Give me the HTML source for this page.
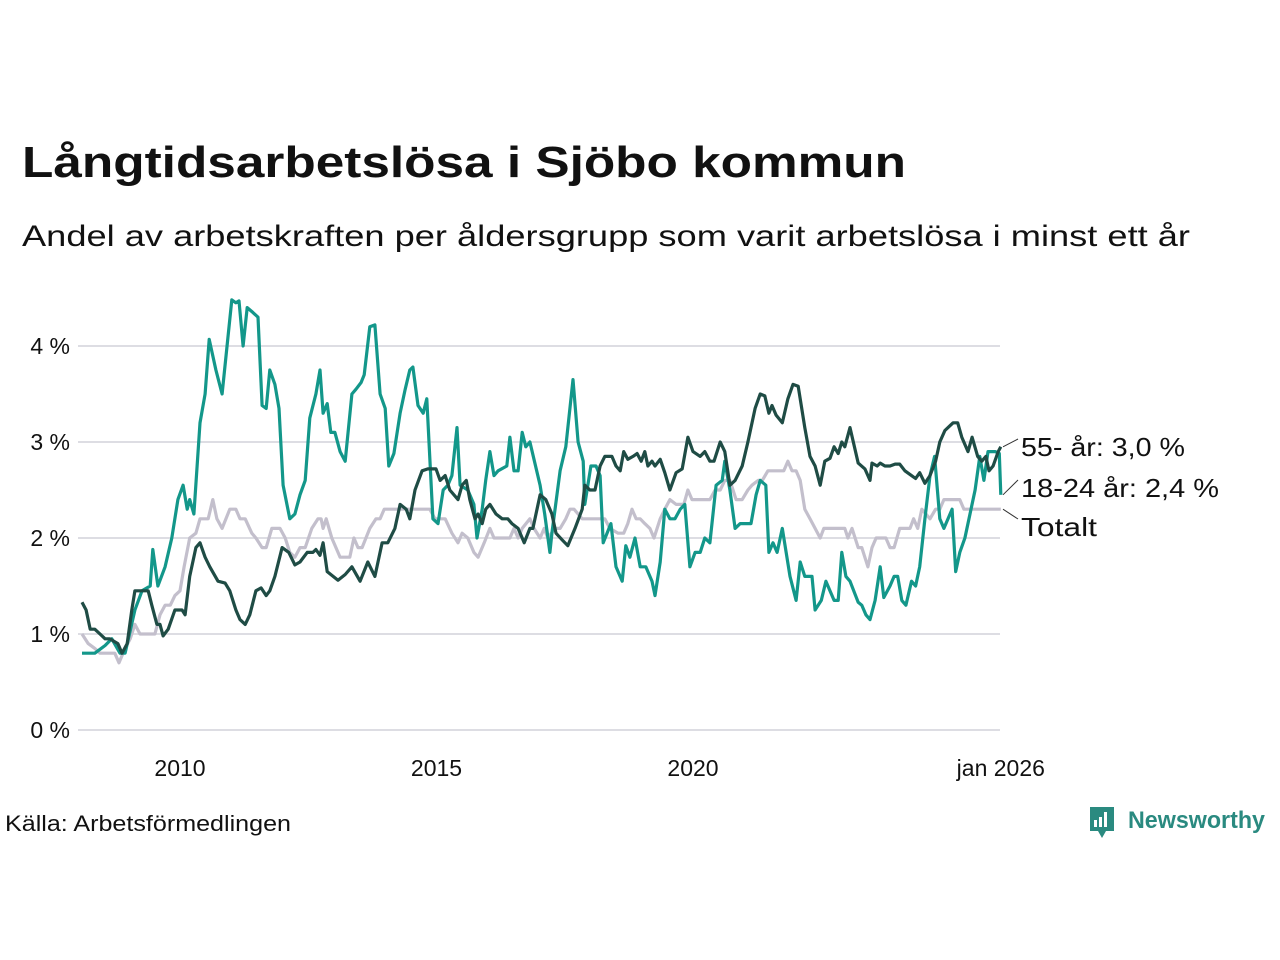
<!DOCTYPE html>
<html><head><meta charset="utf-8"><style>
html,body{margin:0;padding:0;background:#fff;}
svg{display:block;font-family:"Liberation Sans",sans-serif;}
</style></head><body>
<svg id="chart" width="1280" height="960" viewBox="0 0 1280 960">
<text x="22" y="177" font-size="44" font-weight="bold" fill="#111" textLength="884" lengthAdjust="spacingAndGlyphs">Långtidsarbetslösa i Sjöbo kommun</text>
<text x="22" y="246" font-size="30" fill="#111" textLength="1168" lengthAdjust="spacingAndGlyphs">Andel av arbetskraften per åldersgrupp som varit arbetslösa i minst ett år</text>
<g id="grid"></g>
<g id="yticks"></g>
<g id="xticks"></g>
<g id="lines"></g>
<g id="labels"></g>
<text x="5" y="831" font-size="22" fill="#111" textLength="286" lengthAdjust="spacingAndGlyphs">Källa: Arbetsförmedlingen</text>
<g>
<path d="M1090 807 h24 v24 h-8 l-4 7 l-4 -7 h-8 z" fill="#2a8a80"/>
<rect x="1094" y="820" width="3" height="7" fill="#fff"/><rect x="1099" y="817" width="3" height="10" fill="#fff"/><rect x="1104" y="812" width="3" height="15" fill="#fff"/>
<text x="1128" y="828" font-size="24" font-weight="bold" fill="#2a8a80" textLength="137" lengthAdjust="spacingAndGlyphs">Newsworthy</text>
</g>
</svg>
<script>
const yTicks=[0,1,2,3,4];
const yTickLabels=["0 %","1 %","2 %","3 %","4 %"];
const xTicks=[2010,2015,2020,2026];
const xTickLabels=["2010","2015","2020","jan 2026"];
const youngT=[2008.09,2008.34,2008.54,2008.67,2008.83,2008.93,2009.12,2009.26,2009.42,2009.47,2009.57,2009.71,2009.84,2009.96,2010.06,2010.14,2010.19,2010.27,2010.39,2010.49,2010.57,2010.70,2010.82,2011.01,2011.09,2011.15,2011.23,2011.31,2011.42,2011.52,2011.60,2011.68,2011.75,2011.85,2011.93,2012.01,2012.14,2012.24,2012.34,2012.44,2012.53,2012.65,2012.73,2012.79,2012.87,2012.94,2013.02,2013.12,2013.22,2013.35,2013.43,2013.53,2013.59,2013.70,2013.80,2013.90,2014.00,2014.07,2014.17,2014.29,2014.39,2014.48,2014.54,2014.64,2014.74,2014.81,2014.93,2015.03,2015.13,2015.22,2015.30,2015.40,2015.46,2015.61,2015.73,2015.79,2015.89,2015.96,2016.04,2016.12,2016.20,2016.37,2016.43,2016.51,2016.59,2016.67,2016.74,2016.82,2017.02,2017.11,2017.21,2017.25,2017.41,2017.52,2017.66,2017.76,2017.86,2017.89,2018.01,2018.11,2018.19,2018.25,2018.40,2018.50,2018.62,2018.69,2018.77,2018.87,2018.97,2019.08,2019.20,2019.26,2019.36,2019.45,2019.55,2019.65,2019.75,2019.84,2019.94,2020.04,2020.14,2020.23,2020.33,2020.45,2020.57,2020.62,2020.72,2020.82,2020.92,2021.13,2021.23,2021.31,2021.42,2021.48,2021.56,2021.64,2021.74,2021.89,2022.01,2022.09,2022.18,2022.32,2022.38,2022.50,2022.59,2022.75,2022.83,2022.90,2022.98,2023.06,2023.22,2023.29,2023.37,2023.45,2023.55,2023.65,2023.72,2023.84,2023.92,2023.99,2024.07,2024.15,2024.26,2024.34,2024.42,2024.52,2024.62,2024.71,2024.81,2024.89,2025.05,2025.12,2025.20,2025.30,2025.40,2025.50,2025.59,2025.67,2025.75,2025.89,2025.97,2026.00];
const youngV=[0.80,0.80,0.88,0.95,0.80,0.80,1.25,1.45,1.50,1.88,1.50,1.70,2.00,2.40,2.55,2.30,2.40,2.25,3.20,3.50,4.07,3.75,3.50,4.48,4.45,4.47,4.00,4.40,4.35,4.30,3.38,3.35,3.75,3.60,3.35,2.55,2.20,2.25,2.45,2.60,3.25,3.50,3.75,3.30,3.40,3.10,3.10,2.90,2.80,3.50,3.55,3.62,3.70,4.20,4.22,3.50,3.35,2.75,2.88,3.30,3.55,3.75,3.78,3.38,3.30,3.45,2.20,2.15,2.50,2.55,2.65,3.15,2.55,2.50,2.35,2.00,2.30,2.60,2.90,2.65,2.70,2.75,3.05,2.70,2.70,3.10,2.95,3.00,2.55,2.25,1.85,2.05,2.70,2.95,3.65,3.00,2.80,2.35,2.75,2.75,2.65,1.95,2.15,1.70,1.55,1.92,1.80,2.00,1.70,1.70,1.55,1.40,1.75,2.30,2.20,2.20,2.30,2.35,1.70,1.85,1.85,2.00,1.95,2.55,2.60,2.80,2.50,2.10,2.15,2.15,2.45,2.60,2.55,1.85,1.95,1.85,2.10,1.60,1.35,1.75,1.60,1.60,1.25,1.35,1.55,1.35,1.35,1.85,1.60,1.55,1.33,1.30,1.20,1.15,1.35,1.70,1.38,1.50,1.60,1.60,1.35,1.30,1.55,1.50,1.70,2.20,2.65,2.85,2.20,2.10,2.30,1.65,1.85,2.00,2.25,2.50,2.85,2.60,2.90,2.90,2.88,2.45];
const oldT=[2008.09,2008.17,2008.25,2008.34,2008.44,2008.54,2008.63,2008.79,2008.87,2008.97,2009.06,2009.12,2009.26,2009.38,2009.45,2009.55,2009.61,2009.67,2009.77,2009.90,2010.04,2010.10,2010.19,2010.31,2010.39,2010.49,2010.58,2010.74,2010.88,2010.97,2011.09,2011.17,2011.27,2011.36,2011.48,2011.58,2011.68,2011.75,2011.85,2011.99,2012.12,2012.24,2012.34,2012.48,2012.59,2012.65,2012.73,2012.79,2012.87,2013.08,2013.22,2013.35,2013.51,2013.66,2013.80,2013.94,2014.05,2014.19,2014.29,2014.41,2014.48,2014.58,2014.72,2014.83,2014.99,2015.07,2015.17,2015.26,2015.42,2015.50,2015.58,2015.65,2015.75,2015.81,2015.89,2015.96,2016.04,2016.16,2016.28,2016.39,2016.47,2016.59,2016.71,2016.82,2016.88,2017.02,2017.13,2017.25,2017.33,2017.45,2017.56,2017.70,2017.84,2017.89,2017.99,2018.09,2018.19,2018.28,2018.42,2018.50,2018.58,2018.65,2018.73,2018.83,2018.91,2018.99,2019.06,2019.12,2019.20,2019.26,2019.36,2019.45,2019.55,2019.67,2019.79,2019.90,2020.00,2020.14,2020.23,2020.33,2020.41,2020.53,2020.62,2020.72,2020.82,2020.96,2021.07,2021.21,2021.31,2021.40,2021.48,2021.54,2021.62,2021.74,2021.85,2021.95,2022.05,2022.18,2022.28,2022.38,2022.48,2022.57,2022.67,2022.75,2022.83,2022.90,2022.96,2023.06,2023.22,2023.35,2023.45,2023.49,2023.59,2023.65,2023.74,2023.84,2023.94,2024.03,2024.13,2024.26,2024.34,2024.42,2024.52,2024.62,2024.73,2024.81,2024.91,2025.01,2025.07,2025.16,2025.24,2025.36,2025.44,2025.55,2025.63,2025.71,2025.77,2025.85,2025.95,2026.00];
const oldV=[1.33,1.25,1.05,1.05,1.00,0.95,0.95,0.90,0.80,0.90,1.25,1.45,1.45,1.45,1.30,1.10,1.10,0.98,1.05,1.25,1.25,1.20,1.60,1.90,1.95,1.80,1.70,1.55,1.53,1.45,1.25,1.15,1.10,1.20,1.45,1.48,1.40,1.45,1.60,1.90,1.85,1.72,1.75,1.85,1.85,1.88,1.82,1.95,1.65,1.56,1.62,1.70,1.55,1.75,1.60,1.95,1.95,2.10,2.35,2.30,2.20,2.50,2.70,2.72,2.72,2.60,2.65,2.50,2.40,2.55,2.60,2.40,2.20,2.25,2.15,2.30,2.35,2.25,2.20,2.20,2.15,2.10,1.95,2.10,2.10,2.45,2.40,2.25,2.05,1.98,1.92,2.10,2.30,2.55,2.50,2.50,2.75,2.85,2.85,2.75,2.70,2.90,2.82,2.85,2.88,2.80,2.90,2.75,2.80,2.75,2.82,2.68,2.50,2.68,2.72,3.05,2.90,2.85,2.90,2.80,2.80,3.00,2.90,2.55,2.60,2.75,3.00,3.35,3.50,3.48,3.30,3.38,3.28,3.20,3.45,3.60,3.58,3.15,2.85,2.75,2.55,2.80,2.83,2.95,2.88,3.00,2.95,3.15,2.78,2.72,2.60,2.78,2.75,2.78,2.75,2.75,2.77,2.77,2.70,2.65,2.62,2.68,2.57,2.65,2.80,3.00,3.12,3.17,3.20,3.20,3.05,2.90,3.05,2.85,2.80,2.85,2.70,2.75,2.90,2.95];
const totT=[2008.09,2008.21,2008.34,2008.44,2008.73,2008.81,2008.93,2009.03,2009.12,2009.22,2009.51,2009.61,2009.71,2009.81,2009.90,2010.00,2010.08,2010.19,2010.31,2010.39,2010.55,2010.64,2010.72,2010.82,2010.97,2011.09,2011.17,2011.27,2011.40,2011.48,2011.60,2011.68,2011.79,2011.95,2012.05,2012.14,2012.24,2012.34,2012.44,2012.57,2012.69,2012.75,2012.79,2012.85,2012.96,2013.12,2013.31,2013.39,2013.47,2013.55,2013.70,2013.82,2013.90,2013.98,2014.87,2014.97,2015.17,2015.30,2015.42,2015.50,2015.61,2015.73,2015.81,2015.93,2016.04,2016.12,2016.43,2016.51,2016.59,2016.67,2016.82,2016.90,2017.02,2017.10,2017.17,2017.31,2017.41,2017.52,2017.60,2017.68,2017.76,2017.84,2018.28,2018.38,2018.54,2018.65,2018.73,2018.81,2018.89,2018.97,2019.06,2019.16,2019.24,2019.36,2019.45,2019.55,2019.67,2019.82,2019.90,2019.98,2020.33,2020.43,2020.53,2020.62,2020.72,2020.84,2020.96,2021.07,2021.15,2021.27,2021.35,2021.46,2021.77,2021.85,2021.93,2022.01,2022.09,2022.18,2022.28,2022.38,2022.48,2022.55,2022.96,2023.02,2023.10,2023.22,2023.29,2023.41,2023.49,2023.57,2023.76,2023.84,2023.92,2024.03,2024.23,2024.30,2024.38,2024.46,2024.62,2024.73,2024.81,2024.89,2025.20,2025.28,2026.00];
const totV=[1.00,0.90,0.85,0.80,0.80,0.70,0.85,0.95,1.10,1.00,1.00,1.20,1.30,1.30,1.40,1.45,1.70,2.00,2.05,2.20,2.20,2.40,2.20,2.10,2.30,2.30,2.20,2.20,2.05,2.00,1.90,1.90,2.10,2.10,2.00,1.85,1.80,1.90,1.90,2.10,2.20,2.20,2.10,2.20,2.00,1.80,1.80,2.00,1.90,1.90,2.10,2.20,2.20,2.30,2.30,2.20,2.20,2.05,1.95,2.05,2.00,1.85,1.80,1.95,2.10,2.00,2.00,2.10,2.00,2.10,2.20,2.10,2.00,2.10,2.00,2.10,2.10,2.20,2.30,2.30,2.25,2.20,2.20,2.10,2.05,2.05,2.15,2.30,2.20,2.20,2.15,2.10,2.00,2.20,2.30,2.40,2.35,2.35,2.50,2.40,2.40,2.50,2.50,2.60,2.60,2.40,2.40,2.50,2.55,2.60,2.60,2.70,2.70,2.80,2.70,2.70,2.60,2.30,2.20,2.10,2.00,2.10,2.10,2.00,2.10,1.90,1.90,1.70,1.90,2.00,2.00,1.90,1.90,2.10,2.10,2.20,2.10,2.30,2.20,2.30,2.30,2.40,2.40,2.30,2.30];

const NS="http://www.w3.org/2000/svg";
const X0=2010,PX0=180,PXY=51.3,Y0=730,PYU=96;
function xs(t){return PX0+(t-X0)*PXY;}
function ys(v){return Y0-v*PYU;}
function mk(tag,attrs,parent){const e=document.createElementNS(NS,tag);for(const k in attrs)e.setAttribute(k,attrs[k]);parent.appendChild(e);return e;}
const grid=document.getElementById('grid'),yt=document.getElementById('yticks'),xt=document.getElementById('xticks');
yTicks.forEach((v,i)=>{
  const l=mk('line',{x1:78,x2:1000,y1:ys(v),y2:ys(v),stroke:'#dddde3','stroke-width':2},grid);
  
  
  const t=mk('text',{x:70,y:ys(v)+8,'font-size':23,fill:'#111','text-anchor':'end'},yt);
  t.textContent=yTickLabels[i];
  
  
});
xTicks.forEach((v,i)=>{
  const t=mk('text',{x:xs(v),y:776,'font-size':23,fill:'#111','text-anchor':'middle'},xt);
  t.textContent=xTickLabels[i];
  
  
});
const lines=document.getElementById('lines');
function draw(T,V,color,name){
  const d=T.map((t,i)=>(i?'L':'M')+xs(t).toFixed(1)+' '+ys(V[i]).toFixed(1)).join(' ');
  const p=mk('path',{d:d,fill:'none',stroke:color,'stroke-width':3.2,'stroke-linejoin':'round'},lines);
  
  
}
draw(totT,totV,'#c3bfcc','line-totalt');
draw(youngT,youngV,'#13978a','line-18-24');
draw(oldT,oldV,'#1f4c45','line-55-plus');
const lab=document.getElementById('labels');
const labelTexts=["55- år: 3,0 %","18-24 år: 2,4 %","Totalt"];
const labelW=[164,198,76];
const labelEnds=[oldV[oldV.length-1],youngV[youngV.length-1],totV[totV.length-1]];
const labelY=[447,488,527];
labelTexts.forEach((s,i)=>{
  const c=mk('line',{x1:1003,y1:ys(labelEnds[i]),x2:1018,y2:labelY[i]-8,stroke:'#333','stroke-width':1},lab);
  
  
  const t=mk('text',{x:1021,y:labelY[i]+9,'font-size':26,fill:'#111',textLength:labelW[i],lengthAdjust:'spacingAndGlyphs'},lab);
  t.textContent=s;
  
  
});
</script>
</body></html>
